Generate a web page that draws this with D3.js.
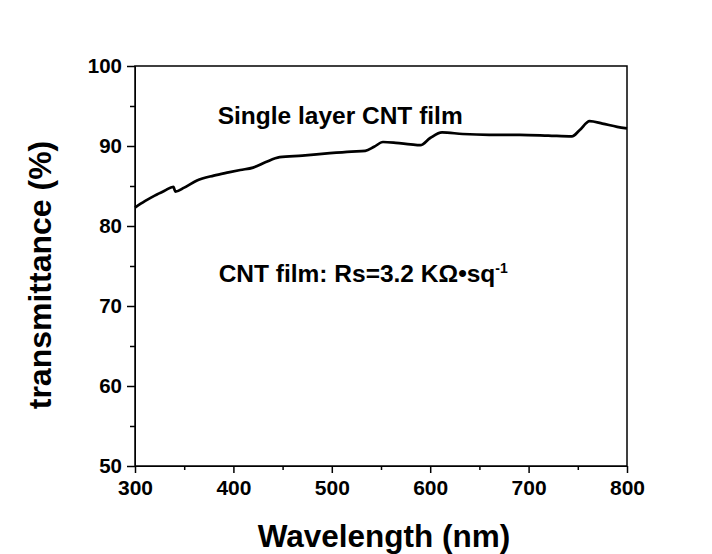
<!DOCTYPE html>
<html>
<head>
<meta charset="utf-8">
<script src="https://cdn.jsdelivr.net/npm/d3@7"></script>
<style>
  body { margin: 0; background: #fff; }
  text { font-family: "Liberation Sans", Arial, sans-serif; font-weight: bold; fill: #000; }
</style>
</head>
<body>
<div id="chart"></div>
<script>
// data
var wavelength = [300, 310, 320, 330, 339, 340, 341, 350, 363, 380, 395, 407, 420, 433, 447, 470, 498, 520, 534, 543, 552, 565, 580, 590, 600, 612, 633, 660, 691, 720, 744, 752, 762, 775, 790, 800];
var transmittance = [82.3, 83.1, 83.8, 84.4, 84.9, 84.6, 84.3, 84.8, 85.7, 86.3, 86.7, 87.0, 87.3, 88.0, 88.6, 88.8, 89.1, 89.3, 89.4, 89.9, 90.5, 90.4, 90.2, 90.1, 91.0, 91.7, 91.5, 91.4, 91.4, 91.3, 91.2, 92.0, 93.1, 92.8, 92.4, 92.2];
var xTicks = [300, 400, 500, 600, 700, 800];
var yTicks = [50, 60, 70, 80, 90, 100];

var svgWidth = 712, svgHeight = 554;
var margin = { top: 66, right: 85, bottom: 88, left: 135 };
var width = svgWidth - margin.left - margin.right;
var height = svgHeight - margin.top - margin.bottom;

var svg = d3.select("#chart").append("svg")
    .attr("width", svgWidth)
    .attr("height", svgHeight);

var chartGroup = svg.append("g")
    .attr("transform", `translate(${margin.left}, ${margin.top})`);

var x = d3.scaleLinear().domain([300, 800]).range([0, width]);
var y = d3.scaleLinear().domain([50, 100]).range([height, 0]);

// minor ticks
chartGroup.append("g")
    .attr("transform", `translate(0, ${height})`)
    .call(d3.axisBottom(x).tickValues(d3.range(350, 800, 100)).tickSize(4).tickFormat(""))
    .call(g => g.select(".domain").remove())
    .selectAll("line").attr("stroke-width", 1.5);
chartGroup.append("g")
    .call(d3.axisLeft(y).tickValues(d3.range(55, 100, 10)).tickSize(5).tickFormat(""))
    .call(g => g.select(".domain").remove())
    .selectAll("line").attr("stroke-width", 1.5);

// major ticks
var xAxis = chartGroup.append("g")
    .attr("transform", `translate(0, ${height})`)
    .call(d3.axisBottom(x).tickValues(xTicks).tickSize(7).tickPadding(7).tickSizeOuter(0));
xAxis.selectAll("text").style("font-size", "21px");
xAxis.selectAll("line").attr("stroke-width", 1.5);

var yAxis = chartGroup.append("g")
    .call(d3.axisLeft(y).tickValues(yTicks).tickSize(8).tickPadding(5).tickSizeOuter(0));
yAxis.selectAll("text").style("font-size", "20.5px");
yAxis.selectAll("line").attr("stroke-width", 1.5);

// frame
chartGroup.append("rect")
    .attr("width", width)
    .attr("height", height)
    .attr("fill", "none")
    .attr("stroke", "#000")
    .attr("stroke-width", 1.5);

// curve
var points = wavelength.map((w, i) => [w, transmittance[i]]);
chartGroup.append("path")
    .datum(points)
    .attr("fill", "none")
    .attr("stroke", "#000")
    .attr("stroke-width", 2.7)
    .attr("stroke-linejoin", "round")
    .attr("d", d3.line().x(d => x(d[0])).y(d => y(d[1])).curve(d3.curveMonotoneX));

// annotations
chartGroup.append("text")
  .attr("x", x(384))
  .attr("y", y(92.8))
  .style("font-size", "24.5px")
  .text("Single layer CNT film");

var note = chartGroup.append("text")
  .attr("x", x(385))
  .attr("y", y(73))
  .style("font-size", "24.5px")
  .text("CNT film: Rs=3.2 K\u03A9\u2022sq");
note.append("tspan")
  .attr("dy", -9)
  .style("font-size", "14px")
  .text("-1");

// axis titles
chartGroup.append("text")
  .attr("transform", "rotate(-90)")
  .attr("x", -height / 2 - 9)
  .attr("y", -margin.left + 51)
  .attr("text-anchor", "middle")
  .style("font-size", "32px")
  .text("transmittance (%)");
chartGroup.append("text")
  .attr("x", 384 - margin.left)
  .attr("y", height + 81)
  .attr("text-anchor", "middle")
  .style("font-size", "31.5px")
  .text("Wavelength (nm)");
</script>
</body>
</html>
